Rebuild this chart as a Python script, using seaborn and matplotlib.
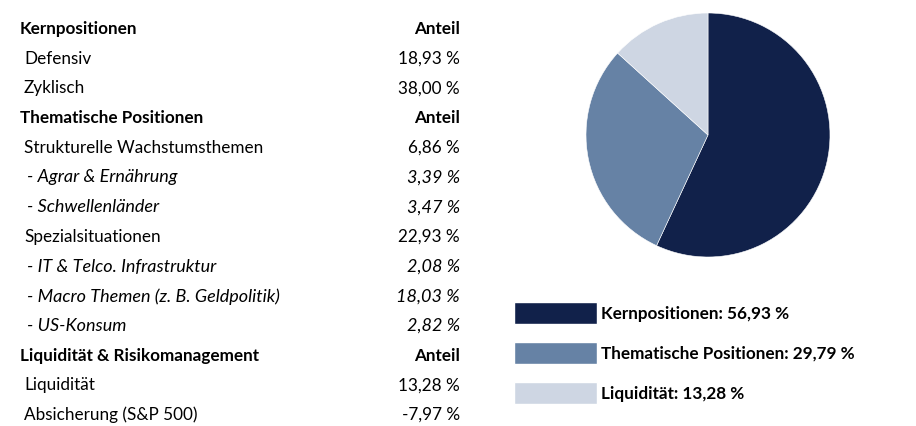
import matplotlib
matplotlib.use("Agg")
import matplotlib.pyplot as plt
import seaborn as sns

# table rows: (label, value, kind) kind: h=header, i=item, s=sub-item
row_labels = ["Kernpositionen", "Defensiv", "Zyklisch",
              "Thematische Positionen", "Strukturelle Wachstumsthemen",
              "- Agrar & Ernährung", "- Schwellenländer", "Spezialsituationen",
              "- IT & Telco. Infrastruktur", "- Macro Themen (z. B. Geldpolitik)",
              "- US-Konsum", "Liquidität & Risikomanagement", "Liquidität",
              "Absicherung (S&P 500)"]
row_values = ["Anteil", "18,93 %", "38,00 %", "Anteil", "6,86 %", "3,39 %",
              "3,47 %", "22,93 %", "2,08 %", "18,03 %", "2,82 %", "Anteil",
              "13,28 %", "-7,97 %"]
row_kinds = ["h", "i", "i", "h", "i", "s", "s", "i", "s", "s", "s", "h", "i", "i"]

pie_labels = ["Kernpositionen", "Thematische Positionen", "Liquidität"]
pie_values = [56.93, 29.79, 13.28]
pie_colors = ["#11214a", "#6682a5", "#ced6e3"]

sns.set_theme(style="white")
plt.rcParams["font.family"] = ["Lato", "DejaVu Sans"]
FS = 12.3

W, H = 916, 427
fig = plt.figure(figsize=(W / 100, H / 100), dpi=100)

# table drawn in pixel coordinates
tab = fig.add_axes([0, 0, 1, 1])
tab.set_xlim(0, W)
tab.set_ylim(H, 0)
tab.axis("off")
y0, dy = 29, 29.7
for i, (lab, val, kind) in enumerate(zip(row_labels, row_values, row_kinds)):
    y = y0 + i * dy
    fs = FS
    if kind == "h":
        x, weight, style = 20, "bold", "normal"
    elif kind == "i":
        x, weight, style = 24, "normal", "normal"
    else:
        x, weight, style = 27, "normal", "italic"
        fs = 13
    tab.text(x, y, lab, fontsize=fs, fontweight=weight, fontstyle=style,
             va="center", ha="left", color="black")
    tab.text(460, y, val, fontsize=fs, fontweight=weight, fontstyle=style,
             va="center", ha="right", color="black")

# pie
cx, cy, r = 708, 136, 122
pax = fig.add_axes([(cx - r) / W, 1 - (cy + r) / H, 2 * r / W, 2 * r / H])
pax.pie(pie_values, colors=pie_colors, startangle=90, counterclock=False,
        wedgeprops=dict(linewidth=0.4, edgecolor="white"))
pax.set_xlim(-1, 1)
pax.set_ylim(-1, 1)
pax.axis("off")

# legend as horizontal bars
lx0, lx1, ly0, ly1 = 514, 900, 294, 414
lax = fig.add_axes([lx0 / W, 1 - ly1 / H, (lx1 - lx0) / W, (ly1 - ly0) / H])
sns.barplot(x=[1] * 3, y=pie_labels, hue=pie_labels, palette=pie_colors,
            orient="h", width=0.55, legend=False, ax=lax, saturation=1)
lax.set_xlim(0, (lx1 - lx0) / 83)
for i, (lab, v) in enumerate(zip(pie_labels, pie_values)):
    lax.text(1.05, i, f"{lab}: {v:.2f} %".replace(".", ","), fontsize=FS,
             fontweight="bold", va="center", ha="left", color="black")
lax.axis("off")

fig.savefig("out.png", dpi=100)
